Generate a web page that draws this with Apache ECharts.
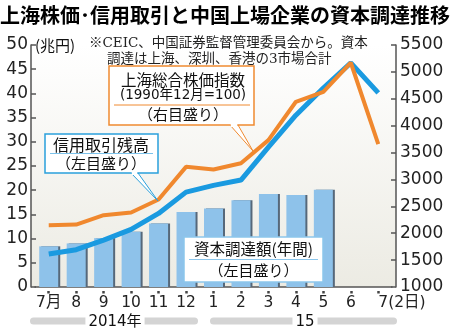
<!DOCTYPE html>
<html><head><meta charset="utf-8">
<script src="https://cdn.jsdelivr.net/npm/echarts@6/dist/echarts.min.js"></script>
<style>html,body{margin:0;padding:0;background:#fff}#c{width:450px;height:332px}</style>
</head><body><div id="c"></div>
<script>
const categories = ['7月','8','9','10','11','12','1','2','3','4','5','6','7(2日)'];
const capitalRaising = [8.4,9.0,10.1,11.4,13.1,15.5,16.2,17.9,19.2,19.0,20.1,null,null];
const marginBalance = [6.8,7.7,9.7,11.9,15.2,19.6,21.0,22.1,28.9,35.5,41.1,46.3,40.1];
const shanghaiIndex = [2150,2160,2335,2385,2627,3234,3186,3300,3731,4444,4630,5170,3657];
const leftAxisRange = [0, 50, 5];
const rightAxisRange = [1000, 5500, 500];
const yearLabels = ['2014年', '15'];
const titleText = '上海株価･信用取引と中国上場企業の資本調達推移';
const noteLines = ['※CEIC、中国証券監督管理委員会から。資本', '調達は上海、深圳、香港の3市場合計'];
const unitText = '(兆円)';
const indexBox = ['上海総合株価指数', '(1990年12月=100)', '（右目盛り）'];
const marginBox = ['信用取引残高', '（左目盛り）'];
const capitalBox = ['資本調達額(年間)', '（左目盛り）'];

const CJK = '"Noto Sans CJK JP", sans-serif';
const NUM = '"DejaVu Sans", "Noto Sans CJK JP", sans-serif';
const SERIF = '"DejaVu Serif", "Noto Sans CJK JP", serif';
const chart = echarts.init(document.getElementById('c'), null, {renderer: 'canvas'});

const xData = categories.map((c, i) => i === categories.length - 1 ? {value: c, textStyle: {align: 'left'}} : c);

function txt(x, y, text, size, opts) {
  return {type: 'text', x: x, y: y, z: 110, style: Object.assign({text: text, fontSize: size, fontFamily: CJK, fill: '#111', align: 'center', verticalAlign: 'middle'}, opts || {})};
}

const graphics = [
  {type: 'rect', z: -10, shape: {x: 31, y: 45, width: 365, height: 242},
   style: {fill: new echarts.graphic.LinearGradient(0, 0, 0, 1, [{offset: 0, color: '#ffffff'}, {offset: 1, color: '#ecebe3'}])}},
  txt(225, 15, titleText, 20, {fontWeight: 'bold', fill: '#000'}),
  txt(35, 45, unitText, 15, {align: 'left'}),
  txt(89, 43, noteLines[0], 13.5, {align: 'left', fill: '#222', fontFamily: SERIF}),
  txt(107, 59, noteLines[1], 13.5, {align: 'left', fill: '#222', fontFamily: SERIF}),
  // orange callout
  {type: 'polygon', z: 100, shape: {points: [[230, 125], [253, 151], [238, 125]]}, style: {fill: '#fff', stroke: '#f08a30', lineWidth: 1}},
  {type: 'rect', z: 101, shape: {x: 109, y: 66, width: 145, height: 59}, style: {fill: '#fff', stroke: '#f08a30', lineWidth: 1.5}},
  {type: 'rect', z: 102, shape: {x: 230.7, y: 124, width: 6.6, height: 3}, style: {fill: '#fff'}},
  txt(183, 80, indexBox[0], 15.5),
  txt(183, 95, indexBox[1], 13.5, {fontFamily: NUM}),
  {type: 'line', z: 110, shape: {x1: 114, y1: 105, x2: 250, y2: 105}, style: {stroke: '#f08a30', lineWidth: 1}},
  txt(183, 114.5, indexBox[2], 15),
  // blue callout
  {type: 'polygon', z: 100, shape: {points: [[131, 173], [158, 201], [138, 173]]}, style: {fill: '#fff', stroke: '#2aa0dc', lineWidth: 1}},
  {type: 'rect', z: 101, shape: {x: 45, y: 134, width: 113, height: 39}, style: {fill: '#fff', stroke: '#2aa0dc', lineWidth: 1.5}},
  {type: 'rect', z: 102, shape: {x: 131.7, y: 172, width: 5.6, height: 3}, style: {fill: '#fff'}},
  txt(101, 145, marginBox[0], 16),
  {type: 'line', z: 110, shape: {x1: 50, y1: 153.5, x2: 153, y2: 153.5}, style: {stroke: '#7cc2ea', lineWidth: 1}},
  txt(101, 163, marginBox[1], 15),
  // capital box
  {type: 'rect', z: 101, shape: {x: 184, y: 237, width: 139, height: 45}, style: {fill: '#fff', stroke: '#8cc6ec', lineWidth: 1.5}},
  txt(253.5, 249, capitalBox[0], 15.5),
  {type: 'line', z: 110, shape: {x1: 189, y1: 259.5, x2: 318, y2: 259.5}, style: {stroke: '#8cc6ec', lineWidth: 1}},
  txt(253.5, 270, capitalBox[1], 15),
  // year bars
  {type: 'rect', z: 5, shape: {x: 30, y: 317.5, width: 168, height: 7, r: 3.5}, style: {fill: '#d4d4d4'}},
  {type: 'rect', z: 5, shape: {x: 210, y: 317.5, width: 187, height: 7, r: 3.5}, style: {fill: '#d4d4d4'}},
  txt(115, 322, yearLabels[0], 15, {fontFamily: NUM, backgroundColor: '#fff', padding: [0, 3]}),
  txt(305, 322, yearLabels[1], 15, {fontFamily: NUM, backgroundColor: '#fff', padding: [0, 3]})
];

chart.setOption({
  animation: false,
  grid: {left: 35, right: 58, top: 45, bottom: 45, containLabel: false},
  xAxis: [
    {type: 'category', data: xData, boundaryGap: true,
     axisLine: {show: true, lineStyle: {color: '#555', width: 1.5}},
     axisTick: {show: false},
     axisLabel: {fontSize: 15.5, fontFamily: NUM, color: '#222', margin: 8, interval: 0}},
    {type: 'category', data: categories, position: 'bottom', offset: 4, boundaryGap: true,
     axisLine: {show: false},
     axisTick: {show: true, alignWithLabel: true, interval: 0, length: 2.5, lineStyle: {color: '#444', width: 2.5}},
     axisLabel: {show: false}}
  ],
  yAxis: [
    {type: 'value', position: 'left', offset: 4, min: leftAxisRange[0], max: leftAxisRange[1], interval: leftAxisRange[2],
     axisLine: {show: true, lineStyle: {color: '#555', width: 1.5}},
     axisTick: {show: true, inside: true, length: 5, lineStyle: {color: '#555', width: 1.5}},
     axisLabel: {fontSize: 17, fontFamily: NUM, color: '#222', margin: 3},
     splitLine: {show: false}},
    {type: 'value', position: 'right', offset: 4, min: rightAxisRange[0], max: rightAxisRange[1], interval: rightAxisRange[2],
     axisLine: {show: true, lineStyle: {color: '#555', width: 1.5}},
     axisTick: {show: true, inside: true, length: 5, lineStyle: {color: '#555', width: 1.5}},
     axisLabel: {fontSize: 17, fontFamily: NUM, color: '#222', margin: 4, formatter: v => String(v)},
     splitLine: {show: false}}
  ],
  series: [
    {type: 'bar', data: capitalRaising, yAxisIndex: 0, barWidth: 19, z: 2,
     itemStyle: {color: '#8ec2ea', shadowColor: '#56687a', shadowOffsetX: 2, shadowBlur: 0}},
    {type: 'line', data: marginBalance, yAxisIndex: 0, symbol: 'none', z: 3,
     lineStyle: {color: '#1a9ae0', width: 5}},
    {type: 'line', data: shanghaiIndex, yAxisIndex: 1, symbol: 'none', z: 4,
     lineStyle: {color: '#f0882e', width: 4}}
  ],
  graphic: graphics
});
</script></body></html>
